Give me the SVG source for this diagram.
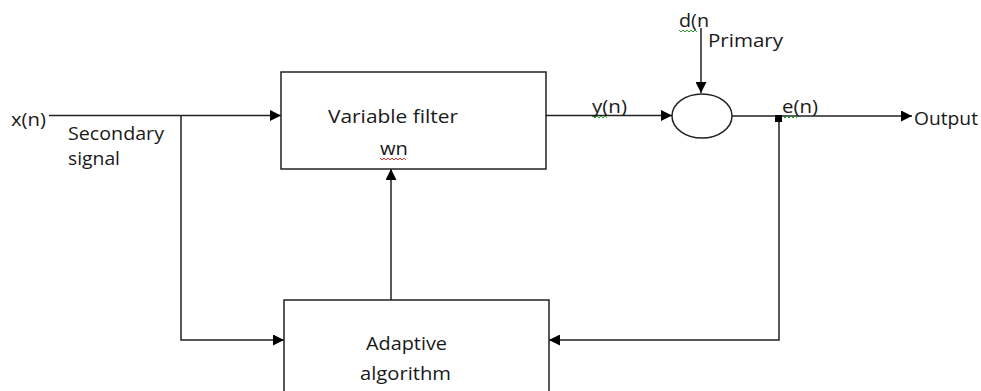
<svg xmlns="http://www.w3.org/2000/svg" width="981" height="391" viewBox="0 0 981 391">
<style>
text{font-family:"Open Sans","Liberation Sans",Arial,sans-serif;font-size:18px;fill:#1a1a1a}
.box{fill:#fff;stroke:#222;stroke-width:1.5}
.ln{fill:none;stroke:#222;stroke-width:1.5}
.sq{fill:none;stroke-width:1}
</style>
<defs>
<marker id="ah" viewBox="0 0 10 10" refX="10" refY="5" markerWidth="11" markerHeight="11" markerUnits="userSpaceOnUse" orient="auto">
<path d="M0,0 L10,5 L0,10 Z" fill="#000"/>
</marker>
</defs>
<rect width="981" height="391" fill="#fff"/>
<g id="connectors">
<path class="ln" d="M49,115.5 H281" marker-end="url(#ah)"/>
<path class="ln" d="M181,115.5 V340 H284" marker-end="url(#ah)"/>
<path class="ln" d="M391,300 V169" marker-end="url(#ah)"/>
<path class="ln" d="M546,115.5 H672" marker-end="url(#ah)"/>
<path class="ln" d="M701,28 V93" marker-end="url(#ah)"/>
<path class="ln" d="M732,116 H912" marker-end="url(#ah)"/>
<path class="ln" d="M779,116 V340 H549" marker-end="url(#ah)"/>
<rect x="775" y="115" width="7" height="7" fill="#000"/>
</g>
<g id="filter">
<rect class="box" x="281" y="72" width="265" height="97"/>
<text x="328" y="123" textLength="130" lengthAdjust="spacingAndGlyphs">Variable filter</text>
<text x="380" y="155" textLength="28" lengthAdjust="spacingAndGlyphs">wn</text>
<path class="sq" stroke="#e03030" d="M380,158 l2,2 l2,-2 l2,2 l2,-2 l2,2 l2,-2 l2,2 l2,-2 l2,2 l2,-2 l2,2 l2,-2 l2,2"/>
</g>
<g id="adaptive">
<rect class="box" x="284" y="300" width="265" height="100"/>
<text x="366" y="350" textLength="81" lengthAdjust="spacingAndGlyphs">Adaptive</text>
<text x="360" y="380" textLength="91" lengthAdjust="spacingAndGlyphs">algorithm</text>
</g>
<g id="sum">
<ellipse cx="702" cy="116" rx="30" ry="22" fill="#fff" stroke="#222" stroke-width="1.5"/>
</g>
<g id="labels">
<text x="11" y="126" textLength="35" lengthAdjust="spacingAndGlyphs">x(n)</text>
<text x="68" y="140" textLength="96" lengthAdjust="spacingAndGlyphs">Secondary</text>
<text x="68" y="165" textLength="52" lengthAdjust="spacingAndGlyphs">signal</text>
<text x="592" y="113" textLength="35" lengthAdjust="spacingAndGlyphs">y(n)</text>
<path class="sq" stroke="#2a9a2a" d="M593,116 l2,2 l2,-2 l2,2 l2,-2 l2,2 l2,-2 l2,2"/>
<text x="679" y="27" textLength="30" lengthAdjust="spacingAndGlyphs">d(n</text>
<path class="sq" stroke="#2a9a2a" d="M679,30 l2,2 l2,-2 l2,2 l2,-2 l2,2 l2,-2 l2,2 l2,-2 l2,2"/>
<text x="708" y="47" textLength="75" lengthAdjust="spacingAndGlyphs">Primary</text>
<text x="782" y="113" textLength="36" lengthAdjust="spacingAndGlyphs">e(n)</text>
<path class="sq" stroke="#2a9a2a" d="M783,116 l2,2 l2,-2 l2,2 l2,-2 l2,2 l2,-2 l2,2"/>
<text x="914" y="125" textLength="64" lengthAdjust="spacingAndGlyphs">Output</text>
</g>
</svg>
